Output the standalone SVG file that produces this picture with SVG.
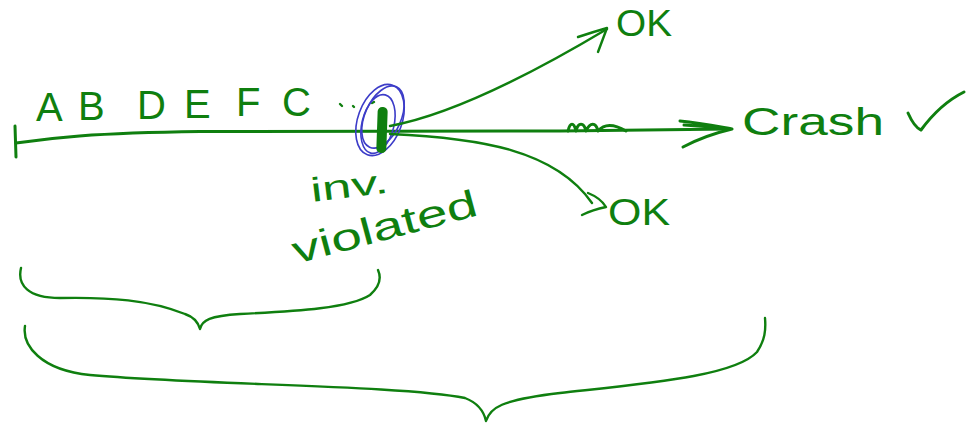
<svg xmlns="http://www.w3.org/2000/svg" width="971" height="427" viewBox="0 0 971 427">
<style>
.ink{fill:none;stroke:#0f7f0f;stroke-width:3;stroke-linecap:round;stroke-linejoin:round}
.thin{fill:none;stroke:#0f7f0f;stroke-width:2.4;stroke-linecap:round;stroke-linejoin:round}
.blue{fill:none;stroke:#3c3cc8;stroke-width:1.6}
.t{font-family:"Liberation Sans","DejaVu Sans",sans-serif;fill:#0f7f0f}
</style>
<rect width="971" height="427" fill="#fff"/>
<g id="timeline">
<path class="ink" d="M15,126 L16,157" stroke-width="4.5"/>
<path class="ink" d="M16,143 C50,138 90,133 200,131.5 L560,131 L730,129"/>
<text class="t" font-size="40" x="36 78 137 184 236 282" y="121 120 119 118 116 116">ABDEFC</text>
<path class="thin" d="M340,104 l2,2 M353,106 l1,1 M372,103 l2,-1"/>
</g>
<g id="violation">
<ellipse class="blue" cx="380" cy="120" rx="22" ry="37" transform="rotate(20 380 120)"/>
<ellipse class="blue" cx="383" cy="117" rx="18" ry="33" transform="rotate(24 383 117)"/>
<ellipse class="blue" cx="378" cy="124" rx="16" ry="30" transform="rotate(14 378 124)"/>
<rect x="377" y="107" width="10" height="46" rx="4.5" fill="#0f7f0f" transform="rotate(2 382 130)"/>
<text class="t" font-size="34" x="312" y="202" textLength="78" lengthAdjust="spacingAndGlyphs" transform="rotate(-7 312 202)">inv.</text>
<text class="t" font-size="38" x="296" y="264" textLength="190" lengthAdjust="spacingAndGlyphs" transform="rotate(-15 296 264)">violated</text>
</g>
<g id="crash">
<path class="ink" d="M568,131 C570,122 574,122 576,131 C578,122 584,122 586,131 C590,122 596,122 598,131 C604,124 614,124 626,131"/>
<path class="ink" d="M680,121 C700,123 715,126 732,129 M684,125 C700,126 715,127 730,129 M683,147 C700,138 715,133 732,129"/>
<text class="t" font-size="38" x="742" y="135" textLength="142" lengthAdjust="spacingAndGlyphs">Crash</text>
<path class="ink" d="M908,113 C912,122 916,128 921,130 C932,115 948,100 964,92"/>
</g>
<g id="ok-top">
<path class="thin" d="M390,126 C450,115 530,75 607,29"/>
<path class="thin" d="M578,37 C590,33 600,30 607,28 L598,52"/>
<text class="t" font-size="37" x="616" y="36" textLength="56" lengthAdjust="spacingAndGlyphs">OK</text>
</g>
<g id="ok-bottom">
<path class="thin" d="M390,134 C480,138 555,150 592,203"/>
<path class="thin" d="M588,193 C598,197 603,202 606,207 C596,209 588,212 582,215"/>
<text class="t" font-size="36" x="608" y="225" textLength="62" lengthAdjust="spacingAndGlyphs">OK</text>
</g>
<g id="braces">
<path class="thin" d="M21,268 C17,285 28,298 60,298 C110,297 150,300 185,314 C194,317 198,322 200,329 C202,320 210,316 240,314 C300,311 350,308 370,295 C378,288 382,279 378,270"/>
<path class="thin" d="M25,326 C22,345 40,370 90,375 C200,385 400,385 465,398 C478,403 484,412 486,421 C490,408 500,400 560,393 C650,383 735,376 757,352 C765,340 766,330 765,318"/>
</g>
</svg>
